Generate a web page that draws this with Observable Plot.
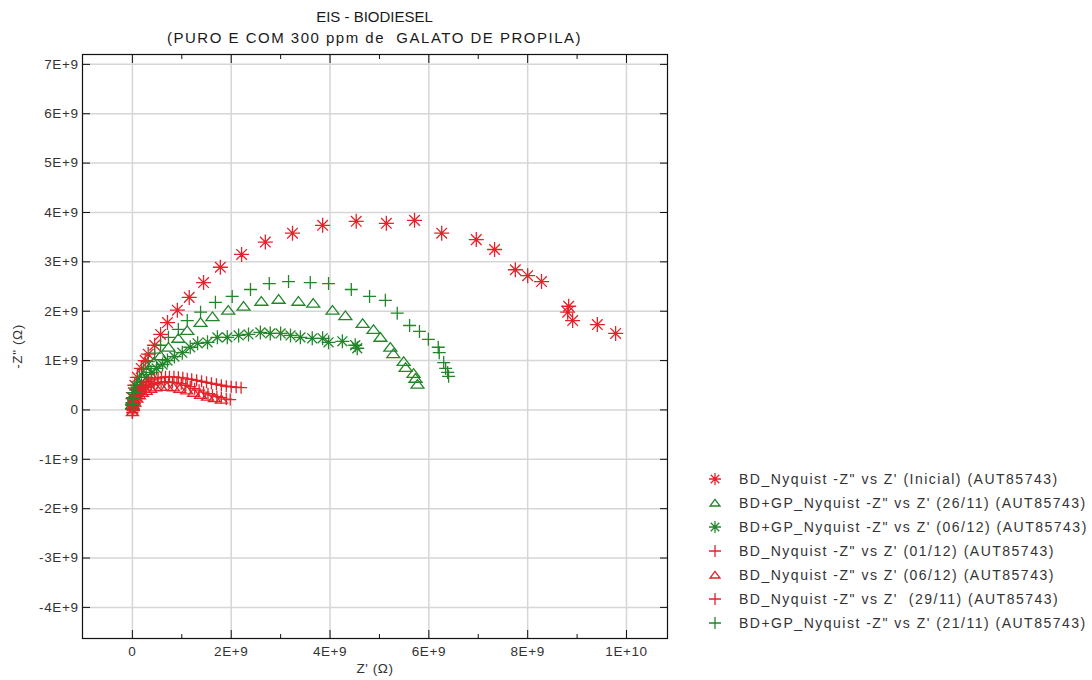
<!DOCTYPE html>
<html>
<head>
<meta charset="utf-8">
<script src="https://cdn.jsdelivr.net/npm/d3@7"></script>
<script src="https://cdn.jsdelivr.net/npm/@observablehq/plot@0.6"></script>
<style>
  body { margin: 0; background: #fff; font-family: "Liberation Sans", Arial, sans-serif; }
  #wrap { position: relative; width: 1092px; height: 680px; overflow: hidden; }
  #title { position: absolute; left: 0; top: 0; width: 749px; text-align: center; font-size: 15px; line-height: 21px; padding-top: 6px; color: #1a1a1a; white-space: pre; }
  #title .l2 { letter-spacing: 1.5px; }
  #chart { position: absolute; left: 0; top: 46px; }
  #chart svg text { letter-spacing: 0.6px; }
  #legend { position: absolute; left: 703px; top: 467px; font-size: 14px; color: #333; letter-spacing: 1.5px; }
  #legend .row { height: 24px; display: flex; align-items: center; white-space: pre; }
  #legend svg { width: 24px; height: 24px; margin-right: 12px; }
</style>
</head>
<body>
<div id="wrap">
  <div id="title"><span>EIS - BIODIESEL</span>
<span class="l2">(PURO E COM 300 ppm de  GALATO DE PROPILA)</span></div>
  <div id="chart"></div>
  <div id="legend"></div>
</div>
<script>
// ---- data (values in units of 1E+9 Ω) ----
const inicialX = [0.00,0.00,0.01,0.02,0.05,0.10,0.18,0.26,0.32,0.45,0.57,0.71,0.91,1.15,1.44,1.78,2.21,2.69,3.24,3.85,4.53,5.14,5.71,6.26,6.96,7.33,7.75,8.00,8.28,8.83,8.81,8.91,9.41,9.78];
const inicialY = [0.01,0.11,0.23,0.35,0.50,0.66,0.84,1.00,1.13,1.31,1.53,1.77,2.02,2.28,2.58,2.89,3.15,3.40,3.58,3.74,3.82,3.78,3.84,3.58,3.45,3.25,2.84,2.72,2.60,2.10,1.98,1.81,1.73,1.55];

const gp2611X = [0.00,0.02,0.06,0.12,0.20,0.30,0.43,0.57,0.73,0.93,1.11,1.38,1.62,1.94,2.25,2.61,2.96,3.36,3.66,4.05,4.31,4.66,4.88,5.02,5.22,5.28,5.49,5.53,5.69,5.73,5.77];
const gp2611Y = [0.11,0.21,0.34,0.48,0.64,0.80,0.96,1.10,1.27,1.45,1.61,1.77,1.89,2.02,2.10,2.20,2.24,2.20,2.16,2.02,1.91,1.75,1.63,1.47,1.27,1.14,0.98,0.86,0.74,0.64,0.52];

const gp0612X = [0.00,0.00,0.01,0.03,0.10,0.18,0.28,0.38,0.49,0.61,0.71,0.85,1.01,1.17,1.32,1.52,1.72,1.92,2.15,2.35,2.59,2.79,3.00,3.20,3.40,3.64,3.85,3.97,4.25,4.51,4.55];
const gp0612Y = [0.09,0.15,0.25,0.35,0.46,0.56,0.66,0.76,0.84,0.92,1.00,1.08,1.16,1.27,1.35,1.37,1.47,1.47,1.51,1.53,1.57,1.55,1.55,1.51,1.47,1.45,1.45,1.37,1.39,1.31,1.25];

const bd0112X = [0.00,0.01,0.02,0.03,0.05,0.07,0.09,0.12,0.15,0.19,0.23,0.28,0.33,0.39,0.45,0.52,0.59,0.67,0.75,0.84,0.93,1.02,1.11,1.20,1.30,1.40,1.50,1.60,1.70,1.80,1.90,2.00,2.10,2.20];
const bd0112Y = [-0.05,0.02,0.08,0.14,0.20,0.26,0.31,0.37,0.42,0.47,0.51,0.55,0.58,0.61,0.63,0.65,0.66,0.67,0.67,0.67,0.66,0.65,0.63,0.62,0.60,0.58,0.56,0.54,0.52,0.50,0.48,0.47,0.46,0.45];

const bd0612X = [0.00,0.02,0.05,0.09,0.14,0.20,0.28,0.37,0.47,0.58,0.70,0.83,0.96,1.10,1.24,1.38,1.52,1.66,1.80];
const bd0612Y = [-0.04,0.06,0.15,0.23,0.30,0.35,0.39,0.43,0.46,0.47,0.47,0.46,0.43,0.40,0.35,0.31,0.27,0.24,0.21];

const bd2911X = [0.00,0.01,0.02,0.04,0.06,0.08,0.11,0.14,0.18,0.22,0.27,0.32,0.38,0.44,0.51,0.58,0.65,0.73,0.81,0.90,0.99,1.08,1.17,1.26,1.35,1.44,1.53,1.62,1.71,1.80,1.90,1.98];
const bd2911Y = [-0.06,0.00,0.06,0.12,0.18,0.23,0.28,0.33,0.37,0.41,0.45,0.48,0.51,0.53,0.55,0.56,0.57,0.57,0.56,0.55,0.53,0.50,0.47,0.43,0.40,0.36,0.33,0.30,0.27,0.25,0.22,0.21];

const gp2111X = [0.00,0.02,0.04,0.08,0.14,0.22,0.32,0.45,0.57,0.73,0.93,1.11,1.38,1.68,2.02,2.39,2.77,3.16,3.60,3.97,4.43,4.80,5.12,5.36,5.61,5.81,5.99,6.19,6.21,6.30,6.34,6.38,6.40];
const gp2111Y = [0.11,0.23,0.35,0.50,0.66,0.82,0.98,1.15,1.31,1.47,1.63,1.81,1.98,2.18,2.30,2.44,2.56,2.60,2.58,2.56,2.44,2.30,2.22,1.96,1.71,1.59,1.43,1.27,1.16,0.96,0.84,0.76,0.68];

const xTicks = [0, 2, 4, 6, 8, 10];
const xMinorTicks = [1, 3, 5, 7, 9];
const yTicks = [-4, -3, -2, -1, 0, 1, 2, 3, 4, 5, 6, 7];

const seriesNames = [
  'BD_Nyquist -Z" vs Z\' (Inicial) (AUT85743)',
  'BD+GP_Nyquist -Z" vs Z\' (26/11) (AUT85743)',
  'BD+GP_Nyquist -Z" vs Z\' (06/12) (AUT85743)',
  'BD_Nyquist -Z" vs Z\' (01/12) (AUT85743)',
  'BD_Nyquist -Z" vs Z\' (06/12) (AUT85743)',
  'BD_Nyquist -Z" vs Z\'  (29/11) (AUT85743)',
  'BD+GP_Nyquist -Z" vs Z\' (21/11) (AUT85743)'
];

// ---- styling ----
const RED = "#e3222a";
const GREEN = "#22862a";

const starSym = { draw(ctx, size) { const r = Math.sqrt(size / Math.PI); const d = r * Math.SQRT1_2;
  ctx.moveTo(-r, 0); ctx.lineTo(r, 0); ctx.moveTo(0, -r); ctx.lineTo(0, r);
  ctx.moveTo(-d, -d); ctx.lineTo(d, d); ctx.moveTo(-d, d); ctx.lineTo(d, -d); } };
const plusSym = { draw(ctx, size) { const r = Math.sqrt(size / Math.PI);
  ctx.moveTo(-r, 0); ctx.lineTo(r, 0); ctx.moveTo(0, -r); ctx.lineTo(0, r); } };
const triSym = { draw(ctx, size) { const r = Math.sqrt(size / Math.PI);
  ctx.moveTo(0, -0.72 * r); ctx.lineTo(r, 0.6 * r); ctx.lineTo(-r, 0.6 * r); ctx.closePath(); } };

const seriesDefs = [
  { xs: inicialX, ys: inicialY, sym: starSym, color: RED,   r: 7.5, lr: 6 },
  { xs: gp2611X,  ys: gp2611Y,  sym: triSym,  color: GREEN, r: 6.5, lr: 5 },
  { xs: gp0612X,  ys: gp0612Y,  sym: starSym, color: GREEN, r: 7,   lr: 6 },
  { xs: bd0112X,  ys: bd0112Y,  sym: plusSym, color: RED,   r: 6,   lr: 6 },
  { xs: bd0612X,  ys: bd0612Y,  sym: triSym,  color: RED,   r: 6,   lr: 5 },
  { xs: bd2911X,  ys: bd2911Y,  sym: plusSym, color: RED,   r: 6,   lr: 6 },
  { xs: gp2111X,  ys: gp2111Y,  sym: plusSym, color: GREEN, r: 6.5, lr: 6 }
];

const fmt = v => {
  if (v === 0) return "0";
  const val = v * 1e9;
  const e = Math.floor(Math.log10(Math.abs(val)) + 1e-9);
  const m = Math.round(val / Math.pow(10, e));
  return `${m}E+${e}`;
};

const dotMarks = seriesDefs.map((s, i) => Plot.dot(
  s.xs.map((x, j) => ({ x, y: s.ys[j], series: seriesNames[i] })),
  { x: "x", y: "y", symbol: () => s.sym, r: s.r, stroke: s.color, strokeWidth: 1.3, fill: "none" }
));

const chart = Plot.plot({
  width: 1092,
  height: 634,
  marginLeft: 82,
  marginRight: 425,
  marginTop: 8,
  marginBottom: 42,
  x: { domain: [-1.01, 10.83] },
  y: { domain: [-4.63, 7.2] },
  symbol: { type: "identity" },
  style: { fontFamily: "'Liberation Sans', Arial, sans-serif", fontSize: "13.5px", color: "#222", background: "#fff" },
  marks: [
    Plot.gridX(xTicks, { stroke: "#d6d6d6", strokeOpacity: 1, strokeWidth: 1.5 }),
    Plot.gridY(yTicks, { stroke: "#d6d6d6", strokeOpacity: 1, strokeWidth: 1.5 }),
    ...dotMarks,
    Plot.frame({ stroke: "#111", strokeWidth: 1.2 }),
    Plot.axisX(xTicks, { anchor: "bottom", tickSize: -8, tickPadding: 16, tickFormat: fmt, stroke: "#111", fill: "#333",
      label: "Z' (Ω)", labelAnchor: "center", labelOffset: 34, labelArrow: "none" }),
    Plot.axisX(xMinorTicks, { anchor: "bottom", tickSize: -4, tickFormat: () => "", label: null, stroke: "#111" }),
    Plot.axisX(xTicks, { anchor: "top", tickSize: -8, tickFormat: () => "", label: null, stroke: "#111" }),
    Plot.axisX(xMinorTicks, { anchor: "top", tickSize: -4, tickFormat: () => "", label: null, stroke: "#111" }),
    Plot.axisY(yTicks, { anchor: "left", tickSize: -8, tickPadding: 12, tickFormat: fmt, stroke: "#111", fill: "#333",
      label: '-Z" (Ω)', labelAnchor: "center", labelOffset: 70, labelArrow: "none" }),
    Plot.axisY(yTicks, { anchor: "right", tickSize: -8, tickFormat: () => "", label: null, stroke: "#111" })
  ]
});
document.getElementById("chart").appendChild(chart);

// ---- legend ----
const legend = document.getElementById("legend");
seriesDefs.forEach((s, i) => {
  const row = document.createElement("div");
  row.className = "row";
  const p = d3.path();
  s.sym.draw(p, Math.PI * s.lr * s.lr);
  row.innerHTML = `<svg viewBox="-12 -12 24 24"><path d="${p.toString()}" fill="none" stroke="${s.color}" stroke-width="1.3"/></svg>`;
  const span = document.createElement("span");
  span.textContent = seriesNames[i];
  row.appendChild(span);
  legend.appendChild(row);
});
</script>
</body>
</html>
